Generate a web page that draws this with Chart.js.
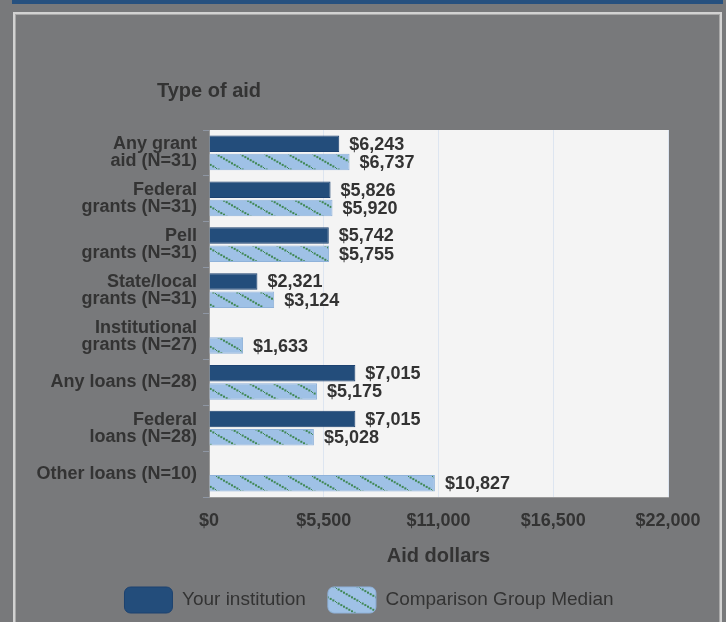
<!DOCTYPE html>
<html><head><meta charset="utf-8">
<script src="https://cdn.jsdelivr.net/npm/chart.js@4/dist/chart.umd.min.js"></script>
<style>
html,body{margin:0;padding:0;background:#78797b;width:726px;height:622px;overflow:hidden;font-family:"Liberation Sans",Arial,sans-serif}
#topbar{position:absolute;left:12px;top:0;width:711px;height:4px;background:#27517f}
#frame{position:absolute;left:13px;top:12px;width:705px;height:700px;border:2px solid #d2d2d2;box-shadow:inset 0 0 0 1px #a8a8a8}
#wrap{position:absolute;left:0;top:0;width:726px;height:622px}
</style></head><body>
<div id="topbar"></div><div id="frame"></div>
<div id="wrap"><canvas id="c" width="726" height="622"></canvas></div>
<script>
const categories = [
  ["Any grant","aid (N=31)"],
  ["Federal","grants (N=31)"],
  ["Pell","grants (N=31)"],
  ["State/local","grants (N=31)"],
  ["Institutional","grants (N=27)"],
  "Any loans (N=28)",
  ["Federal","loans (N=28)"],
  "Other loans (N=10)"
];
const yourInstitution = [6243, 5826, 5742, 2321, null, 7015, 7015, null];
const comparisonMedian = [6737, 5920, 5755, 3124, 1633, 5175, 5028, 10827];
const xTickValues = [0, 5500, 11000, 16500, 22000];
const seriesNames = ["Your institution", "Comparison Group Median"];
const yAxisTitle = "Type of aid";
const xAxisTitle = "Aid dollars";

const FONT = '"Liberation Sans", Arial, sans-serif';
const TEXT = '#333333';

function makeHatch(){
  const W = 24, H = 14;
  const c = document.createElement('canvas'); c.width = W; c.height = H;
  const g = c.getContext('2d');
  g.fillStyle = '#9fc1e6'; g.fillRect(0,0,W,H);
  const n = 9;
  for (let i = 0; i < n; i++){
    const t = i/n, x = t*W, y = t*H;
    for (const k of [-1,0,1]) {
      g.fillStyle = '#3f8753';
      g.fillRect(x + k*W - 1, y + k*H - 1, 2, 2);
    }
  }
  return g.createPattern(c,'repeat');
}
const hatch = makeHatch();

const plotBg = {
  id:'plotBg',
  beforeDraw(chart){
    const {ctx, chartArea:a} = chart;
    ctx.save(); ctx.fillStyle = '#f4f4f4';
    ctx.fillRect(a.left, a.top, a.right-a.left, a.bottom-a.top);
    ctx.restore();
  }
};
const yTitle = {
  id:'yTitle',
  afterDraw(chart){
    const {ctx, chartArea:a} = chart;
    ctx.save(); ctx.font = 'bold 20px ' + FONT; ctx.fillStyle = TEXT;
    ctx.textAlign = 'center'; ctx.textBaseline = 'middle';
    ctx.fillText(yAxisTitle, a.left, 91);
    ctx.restore();
  }
};
const valueLabels = {
  id:'valueLabels',
  afterDatasetsDraw(chart){
    const ctx = chart.ctx;
    ctx.save(); ctx.font = 'bold 18px ' + FONT; ctx.fillStyle = TEXT;
    ctx.textAlign = 'left'; ctx.textBaseline = 'middle';
    chart.data.datasets.forEach((ds, di) => {
      chart.getDatasetMeta(di).data.forEach((el, i) => {
        const v = ds.data[i];
        if (v === null || v === undefined) return;
        ctx.fillText('$' + v.toLocaleString('en-US'), el.x + 10, el.y + 1);
      });
    });
    ctx.restore();
  }
};

new Chart(document.getElementById('c'), {
  type:'bar',
  data:{
    labels: categories,
    datasets:[
      {label: seriesNames[0], data: yourInstitution, backgroundColor:'#234d7b', borderColor:'#1d4270', borderWidth:1},
      {label: seriesNames[1], data: comparisonMedian, backgroundColor: hatch, borderColor:'#8fb2da', borderWidth:1}
    ]
  },
  options:{
    indexAxis:'y',
    responsive:false,
    animation:false,
    devicePixelRatio:1,
    layout:{padding:{left:12, right:0, top:130, bottom:-1}},
    scales:{
      x:{
        min:0, max:22000,
        afterBuildTicks(axis){ axis.ticks = xTickValues.map(v => ({value:v})); },
        ticks:{callback:v => '$' + Number(v).toLocaleString('en-US'), font:{family:FONT, size:18, weight:'bold'}, color:TEXT, padding:13, maxRotation:0},
        grid:{color:'#dde5f0', drawTicks:false},
        border:{color:'#9a9a9a'},
        title:{display:true, text:xAxisTitle, font:{family:FONT, size:20, weight:'bold'}, color:TEXT, padding:{top:4, bottom:-3}},
        afterFit(a){ a.height = 68; }
      },
      y:{
        ticks:{font:{family:FONT, size:18, weight:'bold', lineHeight:0.95}, color:TEXT, padding:6, autoSkip:false},
        grid:{drawOnChartArea:false, color:'#8e96a3', tickLength:6},
        border:{color:'#9a9a9a'},
        afterFit(a){ a.width = 197; }
      },
      yRight:{
        type:'linear', position:'right', display:true,
        ticks:{display:false}, grid:{display:false, drawTicks:false}, border:{display:false},
        afterFit(a){ a.width = 58; }
      }
    },
    plugins:{
      legend:{
        position:'bottom',
        labels:{boxWidth:48, boxHeight:26, useBorderRadius:true, borderRadius:6, padding:22, color:TEXT, font:{family:FONT, size:19}}
      },
      tooltip:{enabled:false},
      title:{display:false}
    }
  },
  plugins:[plotBg, yTitle, valueLabels]
});
</script>
</body></html>
